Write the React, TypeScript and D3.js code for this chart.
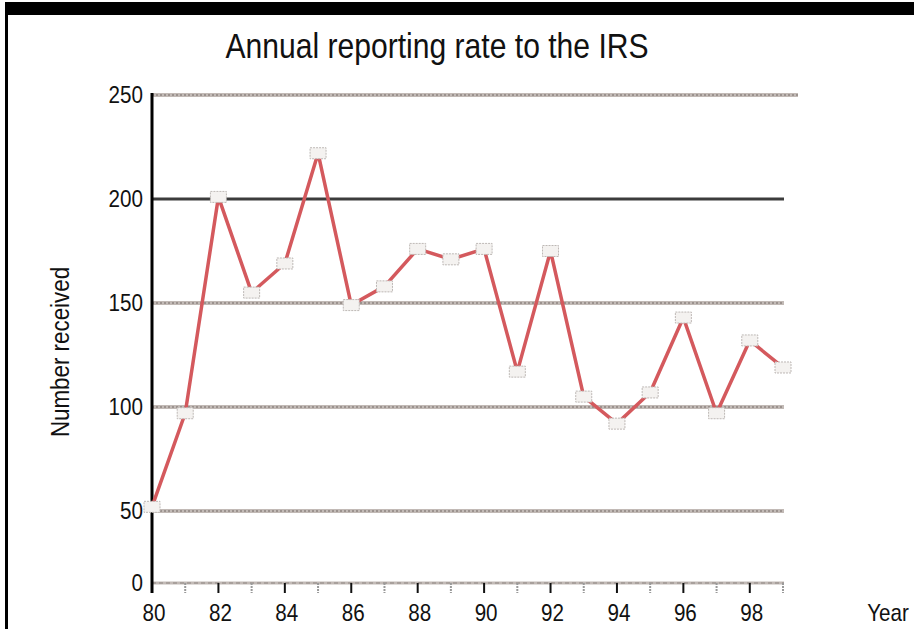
import React from "react";
import * as d3 from "d3";

// years on the x axis (two-digit)
const years = [80, 81, 82, 83, 84, 85, 86, 87, 88, 89, 90, 91, 92, 93, 94, 95, 96, 97, 98, 99];
// number of reports received
const received = [52, 97, 201, 155, 169, 222, 149, 158, 176, 171, 176, 117, 175, 105, 92, 107, 143, 97, 132, 119];
const yTicks = [0, 50, 100, 150, 200, 250];
const xTickLabels = [80, 82, 84, 86, 88, 90, 92, 94, 96, 98];

const W = 914;
const H = 629;
const NARROW = 0.86;

// the original type is a condensed face; squeeze Liberation Sans horizontally
const Narrow: React.FC<{
  x: number;
  y: number;
  size: number;
  anchor?: "start" | "middle" | "end";
  rotate?: number;
  children: React.ReactNode;
}> = ({ x, y, size, anchor = "middle", rotate = 0, children }) => (
  <text
    transform={`translate(${x},${y}) rotate(${rotate}) scale(${NARROW},1)`}
    textAnchor={anchor}
    fontSize={size}
    fill="#111"
  >
    {children}
  </text>
);

const App: React.FC = () => {
  // the original scan has a squashed bottom band, so the scale is piecewise
  const x = d3.scaleLinear().domain([80, 99]).range([152, 783]);
  const y = d3.scaleLinear().domain([0, 50, 250]).range([583, 511, 95]);

  const line = d3
    .line<number>()
    .x((_, i) => x(years[i]))
    .y((d) => y(d));

  const gridEnd = x(99) + 1;

  return (
    <svg
      width={W}
      height={H}
      style={{ position: "absolute", left: 0, top: 0, background: "#fff" }}
      fontFamily="'Liberation Sans', Arial, sans-serif"
    >
      {/* frame */}
      <rect x={5} y={2} width={W - 5} height={13} fill="#000" />
      <line x1={6.5} y1={2} x2={6.5} y2={H} stroke="#000" strokeWidth={3} />

      <Narrow x={437} y={58} size={35}>
        Annual reporting rate to the IRS
      </Narrow>

      {/* gridlines */}
      {yTicks
        .filter((t) => t > 0)
        .map((t) => {
          const x2 = t === 250 ? gridEnd + 14 : gridEnd;
          return (
            <g key={t}>
              <line
                x1={x(80)}
                x2={x2}
                y1={y(t)}
                y2={y(t)}
                stroke={t === 200 ? "#3c3c3c" : "#c2bab6"}
                strokeWidth={t === 200 ? 3 : 4}
              />
              {t !== 200 && (
                <line
                  x1={x(80)}
                  x2={x2}
                  y1={y(t)}
                  y2={y(t)}
                  stroke="#8e8581"
                  strokeWidth={1.5}
                  strokeDasharray="2 2"
                />
              )}
            </g>
          );
        })}

      {/* x axis baseline and ticks */}
      <line x1={x(80)} x2={gridEnd} y1={y(0)} y2={y(0)} stroke="#c2bab6" strokeWidth={3} />
      <line x1={x(80)} x2={gridEnd} y1={y(0)} y2={y(0)} stroke="#8e8581" strokeWidth={1.2} strokeDasharray="4 3" />
      {years.map((yr) => (
        <line
          key={yr}
          x1={x(yr)}
          x2={x(yr)}
          y1={y(0)}
          y2={y(0) + 10}
          stroke={yr % 2 === 0 ? "#111" : "#9a9a9a"}
          strokeWidth={2}
          strokeDasharray={yr % 2 === 0 ? undefined : "2 1"}
        />
      ))}

      {/* y axis */}
      <line x1={x(80)} x2={x(80)} y1={y(250) - 2} y2={y(0) + 10} stroke="#000" strokeWidth={3} />

      {yTicks.map((t) => (
        <Narrow key={t} x={143} y={y(t) + 8} size={24} anchor="end">
          {t}
        </Narrow>
      ))}
      {xTickLabels.map((t) => (
        <Narrow key={t} x={x(t) + 2} y={621} size={24}>
          {t}
        </Narrow>
      ))}
      <Narrow x={888} y={621} size={24}>
        Year
      </Narrow>
      <Narrow x={69} y={352} size={26} rotate={-90}>
        Number received
      </Narrow>

      {/* series */}
      <path d={line(received) ?? ""} fill="none" stroke="#d4595d" strokeWidth={3.5} strokeLinejoin="round" />
      {received.map((v, i) => (
        <rect
          key={years[i]}
          x={x(years[i]) - 8}
          y={y(v) - 5.5}
          width={16}
          height={11}
          fill="#f4f2f0"
          stroke="#bdb8b5"
          strokeWidth={1}
          strokeDasharray="2 1"
        />
      ))}
    </svg>
  );
};

export default App;
